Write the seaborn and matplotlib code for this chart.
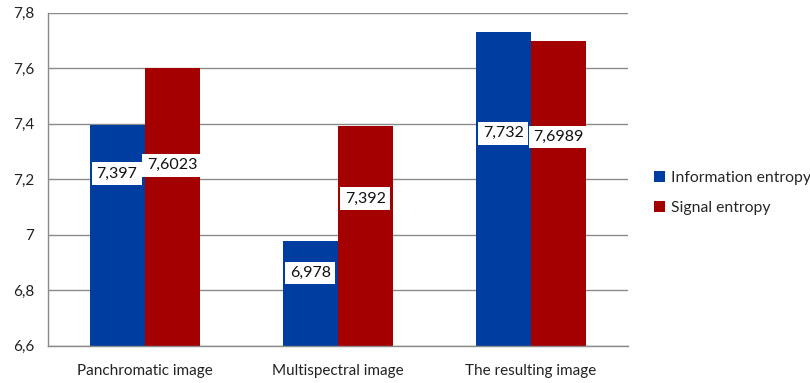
import matplotlib
matplotlib.use("Agg")
import matplotlib.pyplot as plt
import seaborn as sns
import pandas as pd
from matplotlib.patches import Patch
from matplotlib.ticker import FixedLocator

categories = ["Panchromatic image", "Multispectral image", "The resulting image"]
series = ["Information entropy", "Signal entropy"]
info_entropy = [7.397, 6.978, 7.732]
signal_entropy = [7.6023, 7.392, 7.6989]
info_labels = ["7,397", "6,978", "7,732"]
signal_labels = ["7,6023", "7,392", "7,6989"]
# vertical placement of the value boxes, in data units
info_label_y = [7.22, 6.862, 7.366]
signal_label_y = [7.251, 7.129, 7.352]
yticks = [6.6, 6.8, 7.0, 7.2, 7.4, 7.6, 7.8]
ytick_labels = ["6,6", "6,8", "7", "7,2", "7,4", "7,6", "7,8"]

colors = ["#003DA0", "#A40000"]

df = pd.DataFrame({
    "category": categories * 2,
    "series": [series[0]] * 3 + [series[1]] * 3,
    "value": info_entropy + signal_entropy,
})

sns.set_style("white")
plt.rcParams["font.family"] = ["Lato", "DejaVu Sans"]

fig = plt.figure(figsize=(8.1, 3.83), dpi=100)
ax = fig.add_axes([48 / 810, 1 - 345.7 / 383, 579.5 / 810, (345.7 - 12.7) / 383])

sns.barplot(data=df, x="category", y="value", hue="series", palette=colors,
            width=0.57, gap=0, saturation=1, ax=ax, legend=False,
            linewidth=0, errorbar=None)

ax.set_ylim(6.6, 7.8)
ax.set_xlim(-0.5, 2.5)
ax.set_yticks(yticks)
ax.set_yticklabels(ytick_labels, fontsize=11, color="#222222")
ax.set_xlabel("")
ax.set_ylabel("")
ax.tick_params(axis="x", length=0, labelsize=11, colors="#222222", pad=13)
ax.tick_params(axis="y", length=5, color="#8a8a8a", width=1, pad=5)
ax.xaxis.set_minor_locator(FixedLocator([-0.5, 0.5, 1.5, 2.5]))
ax.tick_params(axis="x", which="minor", length=6, color="#8a8a8a", width=1)

ax.grid(axis="y", color="#8a8a8a", linewidth=1)
ax.set_axisbelow(True)
for side in ["top", "right"]:
    ax.spines[side].set_visible(False)
for side in ["left", "bottom"]:
    ax.spines[side].set_color("#8a8a8a")
    ax.spines[side].set_linewidth(1)

# value boxes centred on each bar
bw = 0.285
for i in range(3):
    ax.text(i - bw / 2, info_label_y[i], info_labels[i], ha="center", va="center",
            fontsize=11.5, color="#111111",
            bbox=dict(boxstyle="square,pad=0.28", fc="white", ec="none"))
    ax.text(i + bw / 2, signal_label_y[i], signal_labels[i], ha="center", va="center",
            fontsize=11.5, color="#111111",
            bbox=dict(boxstyle="square,pad=0.28", fc="white", ec="none"))

handles = [Patch(facecolor=c, edgecolor="none") for c in colors]
fig.legend(handles, series, loc="center left", bbox_to_anchor=(640 / 810, 1 - 193 / 383),
           frameon=False, fontsize=11.3, handlelength=0.7, handleheight=0.7,
           handletextpad=0.4, labelspacing=1.0)

fig.savefig("out.png", dpi=100)
